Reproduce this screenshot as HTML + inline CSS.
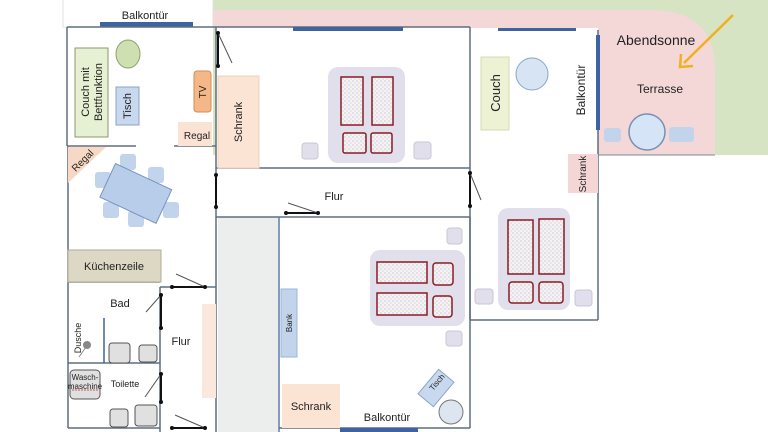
<!DOCTYPE html>
<html><head><meta charset="utf-8"><style>
html,body{margin:0;padding:0;background:#fff;}
svg{display:block;}
text{font-family:"Liberation Sans",sans-serif;fill:#222;}
</style></head><body>
<svg width="768" height="432" viewBox="0 0 768 432" xmlns="http://www.w3.org/2000/svg">
<defs>
<pattern id="dots" width="4" height="4" patternUnits="userSpaceOnUse"><rect width="4" height="4" fill="#f4f2f4"/><circle cx="1" cy="1" r="0.6" fill="#b8b4bc"/><circle cx="3" cy="3" r="0.6" fill="#c8c4cc"/></pattern>
</defs>
<!-- garden / terrace -->
<rect x="213" y="0" width="555" height="155" fill="#d6e4c4"/>
<path d="M213 10 H650 Q715 10 715 70 V155 H598 V28 H213 Z" fill="#f4d8d8"/>
<rect x="216" y="27" width="254" height="141" fill="#fff"/>
<rect x="470" y="28" width="128" height="292" fill="#fff"/>
<line x1="598" y1="155" x2="715" y2="155" stroke="#7a8896" stroke-width="1"/>
<!-- top-left balcony box -->
<rect x="63" y="-2" width="150" height="29" fill="#fff" stroke="#e0e0e0"/>
<text x="145" y="19" font-size="11" text-anchor="middle">Balkontür</text>
<rect x="100" y="22" width="93" height="5" fill="#3d64a0"/>
<!-- corridor grey -->
<rect x="218" y="217" width="60" height="215" fill="#eceeee"/>
<g stroke="#5e6e80" stroke-width="1.5" fill="none">
<line x1="67" y1="27" x2="216" y2="27"/>
<line x1="67" y1="27" x2="67" y2="146"/>
<line x1="68" y1="146" x2="68" y2="428"/>
<line x1="67" y1="146" x2="136" y2="146"/>
<line x1="174" y1="146" x2="216" y2="146"/>
<line x1="216" y1="27" x2="216" y2="432"/>
<line x1="216" y1="27" x2="470" y2="27"/>
<line x1="470" y1="27" x2="470" y2="320"/>
<line x1="598" y1="30" x2="598" y2="320"/>
<line x1="470" y1="320" x2="598" y2="320"/>
<line x1="216" y1="168" x2="470" y2="168"/>
<line x1="216" y1="217" x2="470" y2="217"/>
<line x1="470" y1="217" x2="470" y2="428"/>
<line x1="279" y1="217" x2="279" y2="432" stroke="#5a7aa8"/>
<line x1="279" y1="428" x2="470" y2="428"/>
<line x1="68" y1="282" x2="160" y2="282"/>
<line x1="68" y1="363" x2="160" y2="363"/>
<line x1="68" y1="428" x2="160" y2="428"/>
<line x1="160" y1="287" x2="160" y2="432"/>
<line x1="160" y1="287" x2="216" y2="287"/>
</g>
<!-- blue window bars -->
<rect x="293" y="27" width="110" height="4" fill="#3d64a0"/>
<rect x="498" y="28" width="78" height="3" fill="#3d64a0"/>
<rect x="596" y="35" width="4" height="95" fill="#3d64a0"/>
<rect x="340" y="428" width="78" height="4" fill="#3d64a0"/>
<!-- living room -->
<rect x="75" y="48" width="33" height="89" fill="#e6f0d2" stroke="#8a9a70"/>
<text transform="translate(89,92) rotate(-90)" font-size="11" text-anchor="middle">Couch mit</text>
<text transform="translate(102,92) rotate(-90)" font-size="11" text-anchor="middle">Bettfunktion</text>
<ellipse cx="128" cy="54" rx="12" ry="14" fill="#cfe0b0" stroke="#8aa070"/>
<rect x="116" y="87" width="23" height="38" fill="#c8d8ee" stroke="#8aa4c8"/>
<text transform="translate(131,106) rotate(-90)" font-size="11" text-anchor="middle">Tisch</text>
<rect x="194" y="71" width="17" height="41" rx="3" fill="#f4b888" stroke="#d88a50"/>
<text transform="translate(206,92) rotate(-90)" font-size="10" text-anchor="middle">TV</text>
<rect x="178" y="122" width="34" height="24" fill="#fbe3d4"/>
<text x="197" y="139" font-size="10" text-anchor="middle">Regal</text>
<polygon points="68,147 106,147 68,183" fill="#f6d8c4"/>
<text transform="translate(85,163) rotate(-45)" font-size="10" text-anchor="middle">Regal</text>
<g fill="#c2d4ec">
<rect x="120" y="154" width="16" height="16" rx="3"/><rect x="148" y="167" width="16" height="16" rx="3"/>
<rect x="95" y="172" width="16" height="16" rx="3"/><rect x="103" y="202" width="16" height="16" rx="3"/>
<rect x="128" y="211" width="16" height="16" rx="3"/><rect x="163" y="202" width="16" height="16" rx="3"/>
</g>
<rect x="105" y="175" width="62" height="37" fill="#b8cdea" stroke="#7894c0" transform="rotate(25 136 193)"/>
<!-- kitchen / bath -->
<rect x="68" y="250" width="93" height="32" fill="#dcd8c4" stroke="#b0ac98"/>
<text x="114" y="270" font-size="11" text-anchor="middle">Küchenzeile</text>
<text x="120" y="307" font-size="11" text-anchor="middle">Bad</text>
<text transform="translate(81,338) rotate(-90)" font-size="9" text-anchor="middle">Dusche</text>
<line x1="104" y1="318" x2="104" y2="363" stroke="#3d64a0" stroke-width="1.5"/>
<circle cx="87" cy="345" r="4" fill="#888"/><line x1="79" y1="357" x2="86" y2="347" stroke="#888"/>
<g fill="#e0e0e0" stroke="#555">
<rect x="109" y="343" width="21" height="20" rx="3"/><rect x="139" y="345" width="18" height="17" rx="3"/>
<rect x="110" y="409" width="18" height="18" rx="3"/><rect x="135" y="405" width="22" height="21" rx="3"/>
<rect x="70" y="370" width="30" height="29" rx="4"/>
</g>
<text x="85" y="380" font-size="8" text-anchor="middle">Wasch-</text>
<text x="85" y="389" font-size="8" text-anchor="middle">maschine</text>
<line x1="72" y1="390" x2="99" y2="390" stroke="#d02020" stroke-width="0.8" stroke-dasharray="2,1"/>
<text x="125" y="387" font-size="9" text-anchor="middle">Toilette</text>
<rect x="202" y="304" width="14" height="94" fill="#fbe8dc"/>
<text x="181" y="345" font-size="11" text-anchor="middle">Flur</text>
<!-- doors -->
<g stroke="#111" stroke-width="2">
<line x1="218" y1="33" x2="218" y2="66"/>
<line x1="172" y1="287" x2="205" y2="287"/>
<line x1="161" y1="295" x2="161" y2="328"/>
<line x1="161" y1="374" x2="161" y2="402"/>
<line x1="172" y1="428" x2="205" y2="428"/>
<line x1="470" y1="173" x2="470" y2="206"/>
<line x1="286" y1="213" x2="318" y2="213"/>
<line x1="216" y1="175" x2="216" y2="207"/>
</g>
<g stroke="#555" stroke-width="1">
<line x1="218" y1="33" x2="232" y2="63"/>
<line x1="176" y1="274" x2="205" y2="287"/>
<line x1="161" y1="295" x2="146" y2="312"/>
<line x1="161" y1="374" x2="145" y2="397"/>
<line x1="175" y1="415" x2="205" y2="428"/>
<line x1="470" y1="173" x2="481" y2="200"/>
<line x1="288" y1="203" x2="318" y2="213"/>
</g>
<g fill="#111">
<circle cx="218" cy="33" r="2"/><circle cx="218" cy="66" r="2"/>
<circle cx="216" cy="175" r="2"/><circle cx="216" cy="207" r="2"/>
<circle cx="172" cy="287" r="2"/><circle cx="205" cy="287" r="2"/>
<circle cx="161" cy="295" r="2"/><circle cx="161" cy="328" r="2"/>
<circle cx="161" cy="374" r="2"/><circle cx="161" cy="402" r="2"/>
<circle cx="172" cy="428" r="2"/><circle cx="205" cy="428" r="2"/>
<circle cx="470" cy="173" r="2"/><circle cx="470" cy="206" r="2"/>
<circle cx="286" cy="213" r="2"/><circle cx="318" cy="213" r="2"/>
</g>
<!-- room 2 -->
<rect x="218" y="76" width="41" height="92" fill="#fce4d4" stroke="#f0d0bc"/>
<text transform="translate(242,122) rotate(-90)" font-size="11" text-anchor="middle">Schrank</text>
<rect x="328" y="67" width="77" height="96" rx="10" fill="#e2dfec"/>
<g fill="url(#dots)" stroke="#8a1c24" stroke-width="1.5">
<rect x="341" y="77" width="22" height="48"/><rect x="372" y="77" width="21" height="48"/>
<rect x="343" y="133" width="23" height="20" rx="2"/><rect x="371" y="133" width="21" height="20" rx="2"/>
</g>
<g fill="#e2dfec" stroke="#cac6d4">
<rect x="302" y="143" width="16" height="16" rx="3"/><rect x="414" y="142" width="17" height="17" rx="3"/>
</g>
<text x="334" y="200" font-size="11" text-anchor="middle">Flur</text>
<!-- room 3 -->
<rect x="481" y="57" width="28" height="73" fill="#eef2d4" stroke="#d4dcb0"/>
<text transform="translate(500,93) rotate(-90)" font-size="13" text-anchor="middle">Couch</text>
<circle cx="532" cy="74" r="16" fill="#d6e4f4" stroke="#8aa4c8"/>
<text transform="translate(585,90) rotate(-90)" font-size="12" text-anchor="middle">Balkontür</text>
<rect x="568" y="154" width="30" height="39" fill="#f4d6d6"/>
<text transform="translate(586,174) rotate(-90)" font-size="10" text-anchor="middle">Schrank</text>
<text x="656" y="45" font-size="14" text-anchor="middle">Abendsonne</text>
<text x="660" y="93" font-size="12" text-anchor="middle">Terrasse</text>
<line x1="733" y1="15" x2="684" y2="63" stroke="#f0b020" stroke-width="2.5"/>
<polyline points="681,54 680,67 693,66" fill="none" stroke="#f0b020" stroke-width="2.5"/>
<g fill="#c2d4ec"><rect x="604" y="128" width="17" height="14" rx="3"/><rect x="669" y="127" width="25" height="15" rx="3"/></g>
<circle cx="647" cy="132" r="18" fill="#d6e4f8" stroke="#7890b0" stroke-width="1.5"/>
<!-- right bedroom -->
<rect x="498" y="208" width="72" height="102" rx="10" fill="#e2dfec"/>
<g fill="url(#dots)" stroke="#8a1c24" stroke-width="1.5">
<rect x="508" y="220" width="25" height="54"/><rect x="539" y="219" width="25" height="55"/>
<rect x="509" y="282" width="24" height="21" rx="3"/><rect x="539" y="282" width="24" height="21" rx="3"/>
</g>
<g fill="#e2dfec" stroke="#cac6d4">
<rect x="475" y="289" width="18" height="15" rx="3"/><rect x="575" y="290" width="17" height="16" rx="3"/>
</g>
<!-- lower room -->
<rect x="370" y="250" width="95" height="76" rx="10" fill="#e2dfec"/>
<g fill="url(#dots)" stroke="#8a1c24" stroke-width="1.5">
<rect x="377" y="262" width="50" height="21"/><rect x="377" y="293" width="50" height="22"/>
<rect x="433" y="263" width="20" height="22" rx="3"/><rect x="433" y="296" width="19" height="21" rx="3"/>
</g>
<g fill="#e2dfec" stroke="#cac6d4">
<rect x="447" y="228" width="15" height="16" rx="3"/><rect x="446" y="331" width="16" height="15" rx="3"/>
</g>
<rect x="281" y="289" width="16" height="68" fill="#c2d4ec" stroke="#9ab4d8"/>
<text transform="translate(292,323) rotate(-90)" font-size="8" text-anchor="middle">Bank</text>
<rect x="282" y="384" width="58" height="44" fill="#fce4d4"/>
<text x="311" y="410" font-size="11" text-anchor="middle">Schrank</text>
<text x="387" y="421" font-size="11" text-anchor="middle">Balkontür</text>
<rect x="426" y="372" width="20" height="32" fill="#c8d8ee" stroke="#8aa4c8" transform="rotate(40 436 388)"/>
<text transform="translate(439,384) rotate(-50)" font-size="8" text-anchor="middle">Tisch</text>
<circle cx="451" cy="412" r="12" fill="#dde6f0" stroke="#777"/>
</svg>
</body></html>
